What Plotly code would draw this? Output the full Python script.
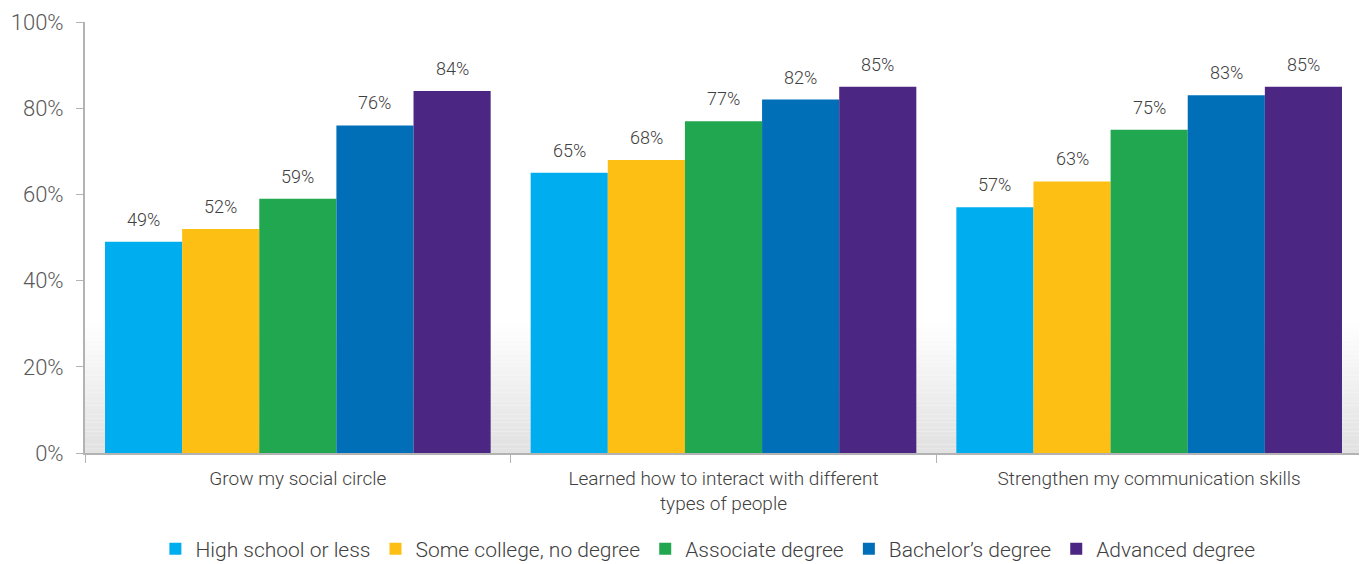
import plotly.graph_objects as go

categories = ["Grow my social circle",
              "Learned how to interact with different<br>types of people",
              "Strengthen my communication skills"]
series_names = ["High school or less", "Some college, no degree", "Associate degree",
                "Bachelor’s degree", "Advanced degree"]
values = {
    "High school or less": [49, 65, 57],
    "Some college, no degree": [52, 68, 63],
    "Associate degree": [59, 77, 75],
    "Bachelor’s degree": [76, 82, 83],
    "Advanced degree": [84, 85, 85],
}
colors = ["#00AEEF", "#FDBF14", "#21A74F", "#006FB8", "#4B2683"]
y_ticks = [0, 20, 40, 60, 80, 100]
y_ticktext = ["0%", "20%", "40%", "60%", "80%", "100%"]

FONT = "Roboto"
W = 300
bargap = 0.094
n = len(series_names)
bw = (1 - bargap) / n
xpos = list(range(len(categories)))

fig = go.Figure()
for j, name in enumerate(series_names):
    fig.add_trace(go.Bar(
        x=xpos, y=values[name], name=name,
        marker=dict(color=colors[j], line=dict(width=0)),
        hoverinfo="skip",
    ))

annotations = []
for j, name in enumerate(series_names):
    for i, v in enumerate(values[name]):
        annotations.append(dict(
            x=i + (j - (n - 1) / 2) * bw, y=v, xref="x", yref="y",
            text=f"{v}%", showarrow=False, yanchor="bottom", yshift=10,
            font=dict(family=FONT, size=18, color="#404040", weight=W),
        ))

# soft gray gradient at the bottom of the plot area
shapes = []
steps = 30
for k in range(steps):
    t = k / steps
    g = int(226 + (255 - 226) * t)
    shapes.append(dict(type="rect", xref="paper", yref="y", x0=0, x1=1,
                       y0=30 * k / steps, y1=30 * (k + 1) / steps,
                       fillcolor=f"rgb({g},{g},{g})", line=dict(width=0), layer="below"))

fig.update_layout(
    width=1359, height=556,
    margin=dict(l=77, r=5, t=14, b=111),
    barmode="group", bargap=bargap, bargroupgap=0,
    plot_bgcolor="white", paper_bgcolor="white",
    font=dict(family=FONT, color="#595959", weight=W),
    annotations=annotations, shapes=shapes,
    showlegend=True,
    legend=dict(orientation="h", x=0.515, xanchor="center", xref="container",
                y=0.027, yanchor="middle", yref="container",
                font=dict(family=FONT, size=21, color="#404040", weight=W),
                itemclick=False, traceorder="normal"),
    xaxis=dict(range=[-0.5, 2.5], tickmode="array", tickvals=xpos, ticktext=categories,
               ticks="", showgrid=False, zeroline=False, automargin=False,
               showline=True, linecolor="#b3b3b3", linewidth=2, ticklabelstandoff=7,
               tickfont=dict(family=FONT, size=19, color="#404040", weight=W),
               minor=dict(tickmode="array", tickvals=[-0.5, 0.5, 1.5, 2.5], ticks="outside",
                          ticklen=8, tickcolor="#b3b3b3", tickwidth=1, showgrid=False)),
    yaxis=dict(range=[0, 100], tickmode="array", tickvals=y_ticks, ticktext=y_ticktext,
               ticks="outside", ticklen=7, tickcolor="#b3b3b3", tickwidth=1,
               showgrid=False, zeroline=False, showline=True, linecolor="#b3b3b3",
               linewidth=2, automargin=False, ticklabelstandoff=8,
               tickfont=dict(family=FONT, size=22, color="#595959", weight=W)),
)

fig.write_html("out.html")
